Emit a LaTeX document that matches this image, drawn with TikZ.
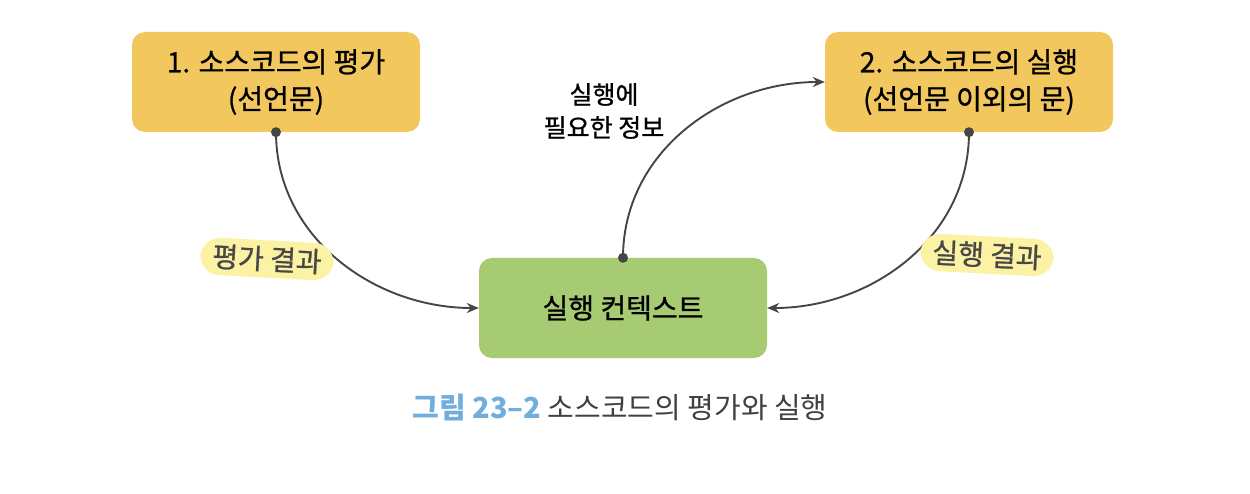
\documentclass[tikz,border=0pt]{standalone}
\usepackage{fontspec}
\setmainfont{Noto Sans CJK KR}
\newfontfamily\medkr{Noto Sans CJK KR}[FakeBold=0.9]
\usepackage{tikz}
\usetikzlibrary{arrows.meta, positioning, calc}

\definecolor{evalbox}{HTML}{F2C85E}
\definecolor{ctxbox}{HTML}{A6CB72}
\definecolor{hilite}{HTML}{FBF2A4}
\definecolor{linegray}{HTML}{454545}
\definecolor{capblue}{HTML}{72AEDC}

\tikzset{
  stagebox/.style={draw=none, fill=evalbox, rounded corners=13pt, minimum width=288pt,
    minimum height=100pt, align=center, font=\medkr\fontsize{28}{37}\selectfont},
  ctxnode/.style={stagebox, fill=ctxbox},
  flow/.style={draw=linegray, line width=1.9pt, -{Stealth[length=12pt,width=10pt]}},
  tailpt/.style={circle, fill=linegray, inner sep=0pt, minimum size=10pt},
  resultlbl/.style={fill=hilite, rounded corners=20pt, inner xsep=12pt, inner ysep=6pt,
    text=black!72, font=\medkr\fontsize{28}{30}\selectfont},
}

\begin{document}
\begin{tikzpicture}[x=1pt,y=-1pt]
\useasboundingbox (0,0) rectangle (1250,494);

\node[stagebox] (eval) at (276,82) {1. 소스코드의 평가\\(선언문)};
\node[stagebox] (exec) at (969,82) {2. 소스코드의 실행\\(선언문 이외의 문)};
\node[ctxnode] (ctx) at (623,308) {실행 컨텍스트};

% start points of the connectors
\node[tailpt] (evaldot) at (eval.south) {};
\node[tailpt] (execdot) at (exec.south) {};
\node[tailpt] (ctxdot) at (ctx.north) {};

\draw[flow] (evaldot.center) to[out=-90,in=180] (ctx.west);
\draw[flow] (ctxdot.center) to[out=90,in=180] (exec.west);
\draw[flow] (execdot.center) to[out=-90,in=0] (ctx.east);

\node[align=center, font=\medkr\fontsize{25}{33}\selectfont] (need) at (604,111) {실행에\\필요한 정보};
\node[resultlbl, rotate=-3] (evalres) at (267,259) {평가 결과};
\node[resultlbl, rotate=-3] (execres) at (987,255) {실행 결과};

\node[font=\fontsize{29}{32}\selectfont] (cap) at (620,408)
  {\textcolor{capblue}{\bfseries 그림 23--2}\ \textcolor{black!75}{소스코드의 평가와 실행}};
\end{tikzpicture}
\end{document}
